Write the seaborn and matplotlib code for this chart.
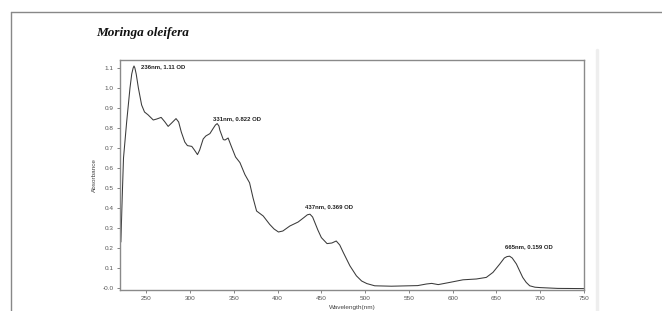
import seaborn as sns
import pandas as pd
import numpy as np
import matplotlib.pyplot as plt
from matplotlib.lines import Line2D

# spectrum
wavelength = [221, 222.5, 224, 227.6, 231.4, 233.4, 235, 236, 237, 238.5, 241, 244.7, 248, 252, 258, 262, 267,
              271, 275, 279, 284, 287, 290, 294, 297, 302, 305, 308.5, 311, 315, 318, 322.7,
              326, 329, 331, 333, 334, 338, 340, 343.5, 347, 352, 357, 362.7, 368, 372, 376, 383.6,
              391, 396, 401, 406, 414, 423.5, 430, 434, 437, 440, 442.6, 446, 450, 456.5,
              462, 467, 471, 475, 482.6, 490, 496, 502, 511, 530, 560, 570, 576, 583.5,
              596.7, 611.8, 627, 638.4, 646, 653.8, 659, 662, 665, 668, 672.8, 676, 680, 684,
              688, 694, 700, 720, 750]
absorbance = [0.23, 0.45, 0.65, 0.83, 1.0, 1.07, 1.1, 1.11, 1.1, 1.07, 1.0, 0.915, 0.88, 0.866, 0.84, 0.845, 0.853,
              0.832, 0.808, 0.825, 0.847, 0.83, 0.78, 0.73, 0.712, 0.708, 0.69, 0.667, 0.69, 0.745, 0.76, 0.772,
              0.795, 0.815, 0.822, 0.81, 0.79, 0.742, 0.74, 0.75, 0.71, 0.655, 0.627, 0.567, 0.526, 0.45, 0.385, 0.36,
              0.318, 0.295, 0.28, 0.285, 0.31, 0.33, 0.352, 0.366, 0.369, 0.355, 0.327, 0.29, 0.252, 0.222,
              0.225, 0.235, 0.215, 0.178, 0.111, 0.061, 0.035, 0.022, 0.011, 0.009, 0.012, 0.02, 0.023, 0.017,
              0.028, 0.041, 0.045, 0.053, 0.078, 0.12, 0.15, 0.157, 0.159, 0.15, 0.12, 0.09, 0.053, 0.028,
              0.011, 0.004, 0.002, -0.002, -0.003]

peak_nm = [236, 331, 437, 665]
peak_od = [1.11, 0.822, 0.369, 0.159]
label_x = [244, 326, 431, 660]
label_y = [1.105, 0.846, 0.408, 0.207]

x_ticks = [250, 300, 350, 400, 450, 500, 550, 600, 650, 700, 750]
y_ticks = [0.0, 0.1, 0.2, 0.3, 0.4, 0.5, 0.6, 0.7, 0.8, 0.9, 1.0, 1.1]
y_labels = ["-0.0"] + [f"{v:.1f}" for v in y_ticks[1:]]

df = pd.DataFrame({"Wavelength": wavelength, "Absorbance": absorbance})

sns.set_style("white")
plt.rcParams['font.family'] = ['Liberation Sans', 'DejaVu Sans']

fig = plt.figure(figsize=(6.62, 3.11), dpi=100)
ax = fig.add_axes([120 / 662, 21 / 311, 464 / 662, 230 / 311])

sns.lineplot(data=df, x="Wavelength", y="Absorbance", ax=ax, color="#3a3a3a", linewidth=0.75)

ax.set_xlim(220, 750)
ax.set_ylim(-0.01, 1.14)
ax.set_xticks(x_ticks)
ax.set_yticks(y_ticks)
ax.set_yticklabels(y_labels)
ax.tick_params(axis="both", labelsize=4.6, colors="#555555", length=2, width=0.5, pad=2.5,
               bottom=True, left=True)
for s in ax.spines.values():
    s.set_color("#8a8a8a")
    s.set_linewidth(1.0)
ax.set_xlabel("Wavelength(nm)", fontsize=4.6, color="#444444", labelpad=3)
ax.set_ylabel("Absorbance", fontsize=4.6, color="#444444", labelpad=4)

for nm, od, lx, ly in zip(peak_nm, peak_od, label_x, label_y):
    ax.text(lx, ly, f"{nm}nm, {od} OD", fontsize=4.3, fontweight="bold", color="#222222",
            va="center", ha="left")

# page frame and title
fig.add_artist(Line2D([11 / 662, 1], [1 - 12 / 311, 1 - 12 / 311], color="#888888", lw=1.0))
fig.add_artist(Line2D([11 / 662, 11 / 662], [0, 1 - 12 / 311], color="#888888", lw=1.0))
fig.add_artist(Line2D([597 / 662, 597 / 662], [0, 1 - 50 / 311], color="#eeeeee", lw=2.5))
fig.text(96 / 662, 1 - 33 / 311, "Moringa oleifera", fontsize=9.5, fontweight="bold",
         fontstyle="italic", family="Liberation Serif", va="center", ha="left", color="#111111")

fig.savefig("out.png", dpi=100)
